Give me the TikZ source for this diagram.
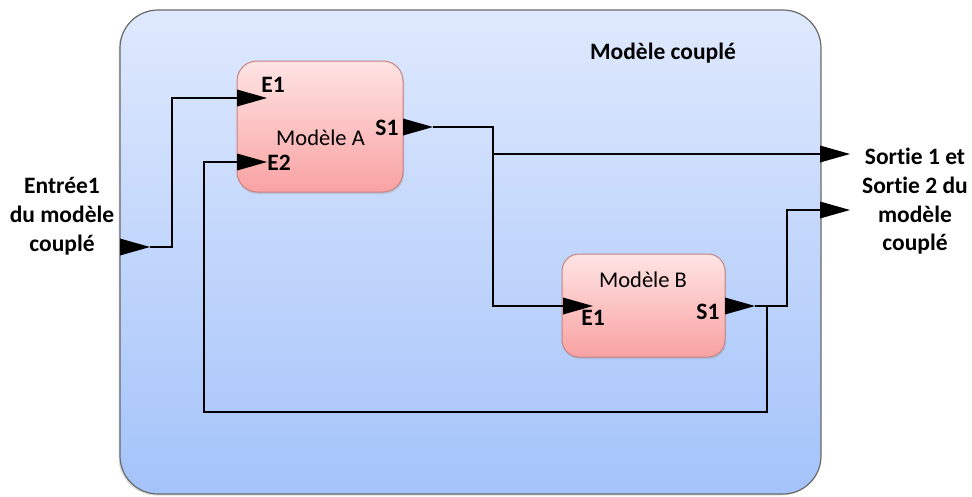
\documentclass[tikz,border=0pt]{standalone}
\usepackage{fontspec}
\setmainfont{Carlito}[Ligatures=NoCommon]
\usetikzlibrary{shadows}
\definecolor{outertop}{RGB}{223,233,253}
\definecolor{outerbot}{RGB}{164,195,250}
\definecolor{modtop}{RGB}{255,228,228}
\definecolor{modbot}{RGB}{249,162,162}
\definecolor{modborder}{RGB}{200,130,130}
\definecolor{outerborder}{RGB}{105,105,105}
\newcommand\porttri[1]{\fill[black] (#1) ++(0,-8.5) -- ++(30,8.5) -- ++(-30,8.5) -- cycle;}
\begin{document}
\begin{tikzpicture}[x=1pt,y=-1pt,
  outerbox/.style={draw=outerborder,line width=1.2pt,rounded corners=38pt,top color=outertop,bottom color=outerbot,
     minimum width=701pt,minimum height=484pt,inner sep=0pt,drop shadow={opacity=0.25,shadow xshift=-1.5pt,shadow yshift=-1.5pt}},
  modbox/.style={draw=modborder,line width=1pt,top color=modtop,bottom color=modbot,inner sep=0pt,
     drop shadow={opacity=0.25,shadow xshift=1pt,shadow yshift=-2pt}},
  wire/.style={line width=2.8pt,line join=miter,line cap=butt},
  lbl/.style={font=\fontsize{22.5}{29}\selectfont,inner sep=0pt,anchor=base},
  blbl/.style={lbl,font=\fontsize{23.5}{29}\selectfont\bfseries},
  ]
\useasboundingbox (0,0) rectangle (972,496);
% outer coupled model
\node[outerbox] (cm) at (470.5,252) {};
\node[blbl] (cmt) at (663,59) {Modèle couplé};
% model A
\node[modbox,rounded corners=20pt,minimum width=166pt,minimum height=131pt] (A) at (320,126.5) {};
\node[lbl] (At) at (320.5,145.7) {Modèle A};
\node[blbl] (AE1t) at (273,92.7) {E1};
\node[blbl] (AE2t) at (279,170.7) {E2};
\node[blbl] (AS1t) at (387,135) {S1};
% model B
\node[modbox,rounded corners=17pt,minimum width=163pt,minimum height=103pt] (B) at (643.5,305.5) {};
\node[lbl] (Bt) at (643,287) {Modèle B};
\node[blbl] (BE1t) at (593,325) {E1};
\node[blbl] (BS1t) at (708,319) {S1};
% outside labels
\node[blbl] (in1) at (62,193) {Entrée1};
\node[blbl] (in2) at (62,222) {du modèle};
\node[blbl] (in3) at (62,251) {couplé};
\node[blbl] (out1) at (915,164) {Sortie 1 et};
\node[blbl] (out2) at (915,193) {Sortie 2 du};
\node[blbl] (out3) at (915,222) {modèle};
\node[blbl] (out4) at (915,250) {couplé};
% port coordinates
\coordinate (inB) at (120,247);   \coordinate (inT) at (150,247);
\coordinate (AE1) at (237,98);
\coordinate (AE2) at (237,162);
\coordinate (AS1) at (403,127);   \coordinate (AS1T) at (433,127);
\coordinate (BE1) at (563,306);
\coordinate (BS1) at (725,306);   \coordinate (BS1T) at (755,306);
\coordinate (O1) at (820,154);
\coordinate (O2) at (820,210);
\coordinate (split) at (493,154);
\coordinate (fb) at (767,306);
% wires
\draw[wire] (inT) -- (172,247) -- (172,98) -- (AE1);
\draw[wire] (AS1T) -- (493,127) -- (493,306) -- (BE1);
\draw[wire] (split) -- (O1);
\draw[wire] (BS1T) -- (787,306) -- (787,210) -- (O2);
\draw[wire] (fb) -- (767,412) -- (204,412) -- (204,162) -- (AE2);
% arrowheads
\porttri{inB}
\porttri{AE1}
\porttri{AE2}
\porttri{AS1}
\porttri{BE1}
\porttri{BS1}
\porttri{O1}
\porttri{O2}
\end{tikzpicture}
\end{document}
